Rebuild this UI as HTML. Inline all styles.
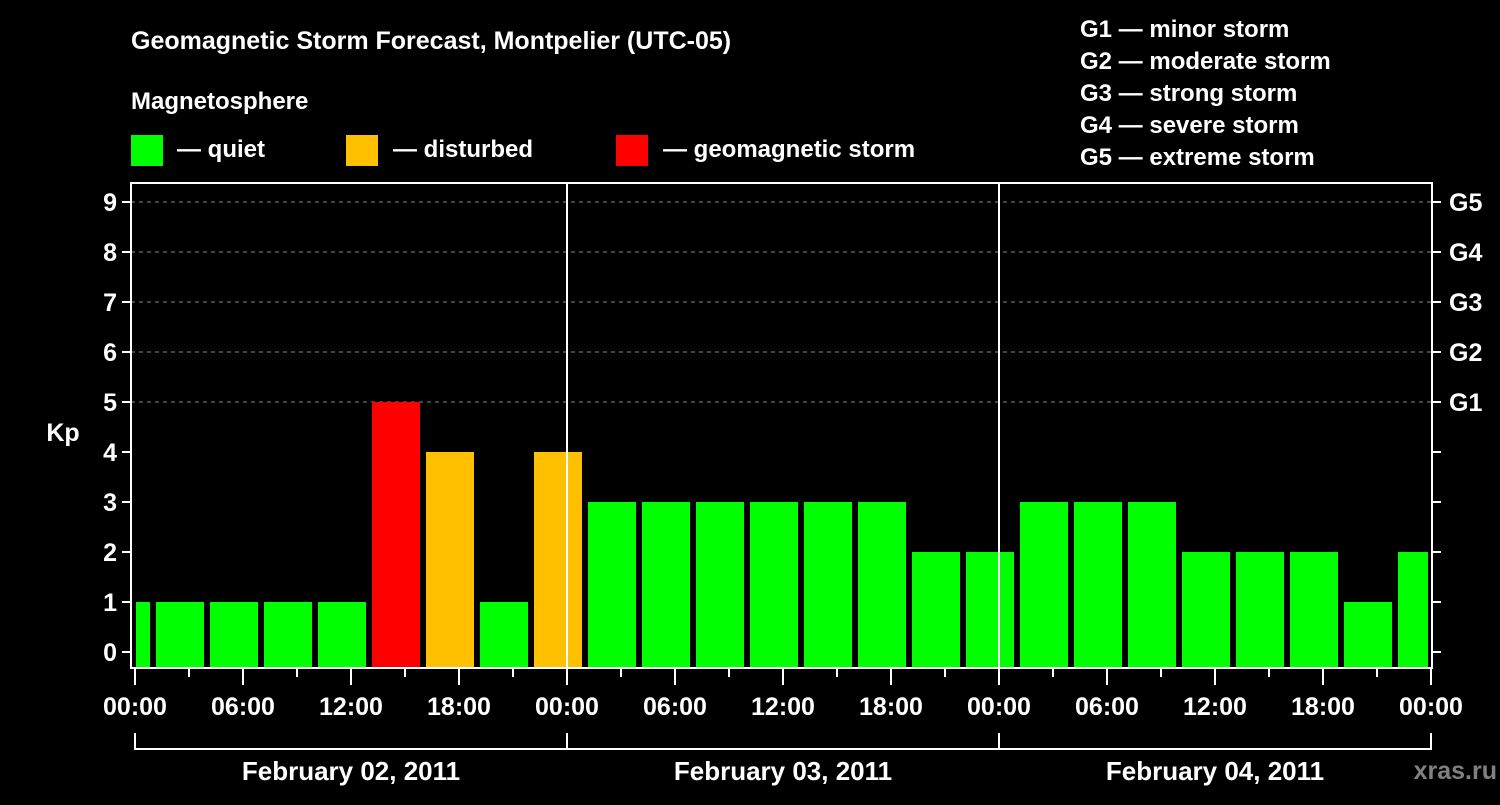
<!DOCTYPE html>
<html><head><meta charset="utf-8"><style>
html,body{margin:0;padding:0;background:#000;}
svg text{font-family:"Liberation Sans",sans-serif;font-weight:bold;fill:#fff;}
</style></head><body>
<svg width="1500" height="800" viewBox="0 0 1500 800">
<text x="131" y="49" font-size="25">Geomagnetic Storm Forecast, Montpelier (UTC-05)</text>
<text x="131" y="109" font-size="24">Magnetosphere</text>
<g>
<rect x="131" y="135" width="32" height="31" fill="#00ff00"/>
<text x="177" y="157" font-size="24">— quiet</text>
<rect x="346" y="135" width="32" height="31" fill="#ffc000"/>
<text x="393" y="157" font-size="24">— disturbed</text>
<rect x="616" y="135" width="32" height="31" fill="#ff0000"/>
<text x="663" y="157" font-size="24">— geomagnetic storm</text>
</g>
<g font-size="24">
<text x="1080" y="37">G1 — minor storm</text>
<text x="1080" y="69">G2 — moderate storm</text>
<text x="1080" y="101">G3 — strong storm</text>
<text x="1080" y="133">G4 — severe storm</text>
<text x="1080" y="165">G5 — extreme storm</text>
</g>
<g id="grid"></g>
<g id="bars"></g>
<g id="axes"></g>
<text x="63" y="441" font-size="25" text-anchor="middle">Kp</text>
<text x="1497" y="779" font-size="25" text-anchor="end" style="fill:#808080">xras.ru</text>
</svg>
<script>
const barStartHours=[-2,1,4,7,10,13,16,19,22,25,28,31,34,37,40,43,46,49,52,55,58,61,64,67,70];
const kpValues=[1,1,1,1,1,5,4,1,4,3,3,3,3,3,3,2,2,3,3,3,2,2,2,1,2];
const yTicks=[0,1,2,3,4,5,6,7,8,9];
const gLabels=["G1","G2","G3","G4","G5"];
const xTickLabels=["00:00","06:00","12:00","18:00","00:00","06:00","12:00","18:00","00:00","06:00","12:00","18:00","00:00"];
const dayLabels=["February 02, 2011","February 03, 2011","February 04, 2011"];
const NS="http://www.w3.org/2000/svg";
const L=131,R=1432,T=183,B=668,X0=135,PH=18;
const xs=h=>X0+h*PH, ys=v=>652-50*v;
function mk(p,tag,at){const e=document.createElementNS(NS,tag);for(const k in at)e.setAttribute(k,at[k]);p.appendChild(e);return e;}
const grid=document.getElementById('grid'),bars=document.getElementById('bars'),axes=document.getElementById('axes');
for(let v=5;v<=9;v++){const l=mk(grid,'line',{x1:L,x2:R,y1:ys(v),y2:ys(v),stroke:'#888','stroke-dasharray':'4,4','stroke-width':1});

}
barStartHours.forEach((h,i)=>{const v=kpValues[i];
let x1=Math.max(xs(h)+3,L+5),x2=Math.min(xs(h+3)-3,R-4);
const c=v>=5?'#ff0000':(v>=4?'#ffc000':'#00ff00');
const r=mk(bars,'rect',{x:x1,y:ys(v),width:x2-x1,height:B-ys(v),fill:c});

});
[1,2].forEach(d=>{mk(axes,'line',{x1:xs(24*d),x2:xs(24*d),y1:T,y2:B,stroke:'#fff','stroke-width':2});});
mk(axes,'rect',{x:L,y:T,width:R-L,height:B-T,fill:'none',stroke:'#fff','stroke-width':2});
yTicks.forEach(v=>{mk(axes,'line',{x1:L-9,x2:L,y1:ys(v),y2:ys(v),stroke:'#fff','stroke-width':2});
mk(axes,'line',{x1:R,x2:R+9,y1:ys(v),y2:ys(v),stroke:'#fff','stroke-width':2});
const t=mk(axes,'text',{x:L-14,y:ys(v)+9,'font-size':25,'text-anchor':'end'});t.textContent=v;

});
gLabels.forEach((g,i)=>{const t=mk(axes,'text',{x:R+17,y:ys(5+i)+9,'font-size':25});t.textContent=g;

});
for(let h=0;h<=72;h+=3){const major=h%6===0;mk(axes,'line',{x1:xs(h),x2:xs(h),y1:B,y2:B+(major?17:9),stroke:'#fff','stroke-width':2});}
xTickLabels.forEach((s,i)=>{const t=mk(axes,'text',{x:xs(i*6),y:715,'font-size':25,'text-anchor':'middle'});t.textContent=s;

});
mk(axes,'line',{x1:xs(0),x2:xs(72),y1:749,y2:749,stroke:'#fff','stroke-width':2});
for(let d=0;d<=3;d++)mk(axes,'line',{x1:xs(24*d),x2:xs(24*d),y1:733,y2:750,stroke:'#fff','stroke-width':2});
dayLabels.forEach((s,i)=>{const t=mk(axes,'text',{x:xs(24*i+12),y:780,'font-size':26,'text-anchor':'middle'});t.textContent=s;

});
</script>
</body></html>
